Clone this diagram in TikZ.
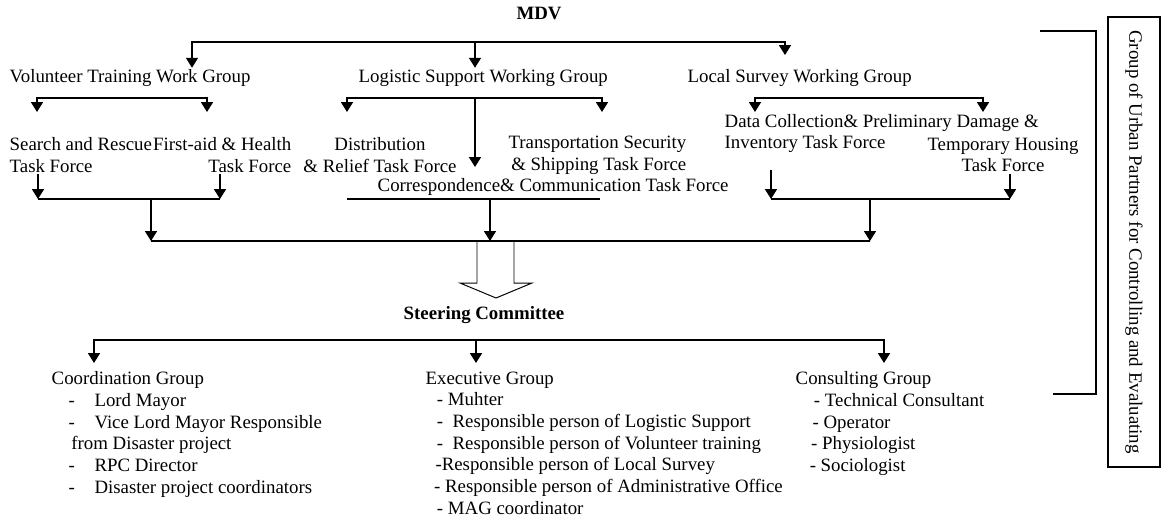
\documentclass[tikz,border=0pt]{standalone}
\usepackage{fontspec}
\setmainfont{Liberation Serif}
\usepackage{tikz}
\usetikzlibrary{arrows.meta}

\newcommand{\cgitem}[1]{\hspace*{12pt}-\hspace*{14pt}#1}

\begin{document}
\begin{tikzpicture}[
    x=0.025cm, y=-0.025cm,
    >={Triangle[width=8.5pt,length=7pt]},
    txt/.style={inner sep=1pt, font=\fontsize{13.4}{15.4}\selectfont},
    head/.style={inner sep=1pt, font=\fontsize{13.4}{15.4}\selectfont\bfseries},
    bus/.style={line width=0.9pt},
    arr/.style={->, line width=0.9pt},
    hol/.style={line width=0.7pt}
]
    \useasboundingbox (0,0) rectangle (1165,522);

    % working groups
    \node[head] (mdv) at (539,13) {MDV};
    \node[txt, anchor=west] (vtw) at (8,78) {Volunteer Training Work Group};
    \node[txt, anchor=west] (lsw) at (357,78) {Logistic Support Working Group};
    \node[txt, anchor=west] (lsv) at (686,78) {Local Survey Working Group};

    \coordinate (t1) at (192,42);
    \coordinate (t2) at (475,42);
    \coordinate (t3) at (785,42);
    \coordinate (lsvin) at (785,55);
    \draw[arr, <->] (vtw.north -| t1) -- (t1) -- (t3) -- (lsvin);
    \draw[arr] (t2) -- (t2 |- lsw.north);

    % task forces
    \node[txt, anchor=west, align=left] (sar) at (8,155) {Search and Rescue\\Task Force};
    \node[txt, anchor=east, align=right] (fah) at (293,155) {First-aid \& Health\\Task Force};
    \node[txt, align=center] (dis) at (380,155) {Distribution\\\& Relief Task Force};
    \node[txt, anchor=east, align=right] (tss) at (688,155) {Transportation Security\\\& Shipping Task Force};
    \node[txt, anchor=west] (cct) at (376,187) {Correspondence\& Communication Task Force};
    \node[txt, anchor=west] (dcl) at (723,123) {Data Collection\& Preliminary Damage \&};
    \node[txt, anchor=west] (inv) at (723,144) {Inventory Task Force};
    \node[txt, align=center] (thf) at (1003,155) {Temporary Housing\\Task Force};

    \coordinate (va) at (37,98);   \coordinate (vat) at (37,112);
    \coordinate (vb) at (207,98);  \coordinate (vbt) at (207,112);
    \draw[arr, <->] (vat) -- (va) -- (vb) -- (vbt);

    \coordinate (la) at (347,98);  \coordinate (lat) at (347,112);
    \coordinate (lb) at (602,98);  \coordinate (lbt) at (602,112);
    \coordinate (lc) at (475,98);  \coordinate (lct) at (475,167);
    \draw[arr, <->] (lat) -- (la) -- (lb) -- (lbt);
    \draw[arr] (lc) -- (lct);

    \coordinate (sa) at (755,98);  \coordinate (sat) at (755,112);
    \coordinate (sb) at (983,98);  \coordinate (sbt) at (983,112);
    \draw[arr, <->] (sat) -- (sa) -- (sb) -- (sbt);

    % collecting lines
    \coordinate (vl) at (38,199);  \coordinate (vr) at (220,199);
    \coordinate (vm) at (151,199);
    \draw[arr] (vl |- sar.south) -- (vl);
    \draw[arr] (vr |- fah.south) -- (vr);
    \draw[bus] (vl) -- (vr);

    \coordinate (ca) at (347,199); \coordinate (cb) at (600,199);
    \coordinate (cm) at (490,199);
    \draw[bus] (ca) -- (cb);

    \coordinate (sl) at (771,199); \coordinate (slt) at (771,170);
    \coordinate (sr) at (1010,199);
    \coordinate (sm) at (870,199);
    \draw[arr] (slt) -- (sl);
    \draw[arr] (sr |- thf.south) -- (sr);
    \draw[bus] (sl) -- (sr);

    \coordinate (bl) at (151,241);
    \coordinate (bm) at (490,241);
    \coordinate (br) at (870,241);
    \draw[arr] (vm) -- (bl);
    \draw[arr] (cm) -- (bm);
    \draw[arr] (sm) -- (br);
    \draw[bus] (bl) -- (br);

    % hollow arrow to the committee
    \draw[hol] (477,241) -- (477,283) -- (460,283) -- (496,298) -- (532,283) -- (514,283) -- (514,241);

    \node[head] (sc) at (484,315) {Steering Committee};

    \coordinate (g1) at (94,340);  \coordinate (g1t) at (94,363);
    \coordinate (g2) at (476,340); \coordinate (g2t) at (476,363);
    \coordinate (g3) at (884,340); \coordinate (g3t) at (884,363);
    \draw[arr, <->] (g1t) -- (g1) -- (g3) -- (g3t);
    \draw[arr] (g2) -- (g2t);

    % committee groups
    \node[txt, anchor=north west, align=left] (cg) at (50,370) {Coordination Group\\
        \cgitem{Lord Mayor}\\
        \cgitem{Vice Lord Mayor Responsible}\\
        \hspace*{14pt}from Disaster project\\
        \cgitem{RPC Director}\\
        \cgitem{Disaster project coordinators}};
    \node[txt, anchor=north west, align=left] (eg) at (424,370) {Executive Group\\
        \hspace*{8pt}- Muhter\\
        \hspace*{8pt}-\ \ Responsible person of Logistic Support\\
        \hspace*{8pt}-\ \ Responsible person of Volunteer training\\
        \hspace*{7pt}-Responsible person of Local Survey\\
        \hspace*{6pt}- Responsible person of Administrative Office\\
        \hspace*{8pt}- MAG coordinator};
    \node[txt, anchor=north west, align=left] (csg) at (794,370) {Consulting Group\\
        \hspace*{13pt}- Technical Consultant\\
        \hspace*{12pt}- Operator\\
        \hspace*{11pt}- Physiologist\\
        \hspace*{10pt}- Sociologist};

    % control group on the right
    \coordinate (k1) at (1040,31); \coordinate (k2) at (1096,31);
    \coordinate (k3) at (1096,394); \coordinate (k4) at (1053,394);
    \draw[bus] (k1) -- (k2) -- (k3) -- (k4);
    \node[txt, draw, line width=0.8pt, rotate=-90, minimum width=320pt, minimum height=37pt] (gup) at (1134,242)
        {Group of Urban Partners for Controlling and Evaluating};
\end{tikzpicture}
\end{document}
